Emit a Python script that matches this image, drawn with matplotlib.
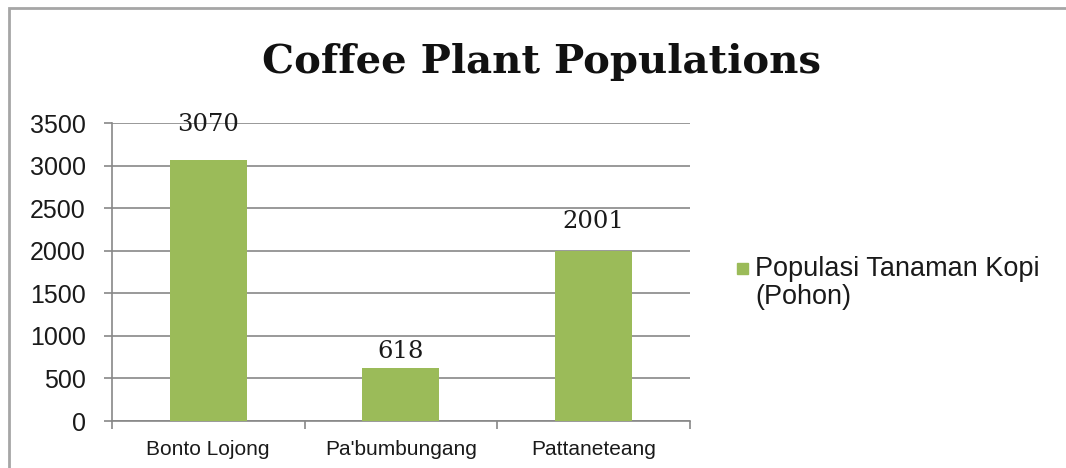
import matplotlib.pyplot as plt
from matplotlib.patches import Rectangle

villages = ["Bonto Lojong", "Pa'bumbungang", "Pattaneteang"]
populations = [3070, 618, 2001]
series_name = "Populasi Tanaman Kopi\n(Pohon)"
yticks = [0, 500, 1000, 1500, 2000, 2500, 3000, 3500]

green = "#9BBB59"
grid_gray = "#878787"
text_col = "#1a1a1a"
label_offsets = [17, 4, 13]  # points above each bar

fig = plt.figure(figsize=(10.66, 4.68), dpi=100)
ax = fig.add_axes([0.105, 0.1004, 0.542, 0.6366])

# chart border (cut off at right and bottom like the screenshot)
fig.patches.append(Rectangle((9 / 1066, -0.1), 1.2, 1 - 8 / 468 + 0.1,
                             transform=fig.transFigure, fill=False,
                             edgecolor="#a6a6a6", linewidth=2))

x = list(range(len(villages)))
bars = ax.bar(x, populations, width=0.4, color=green, label=series_name, zorder=3)

for xi, v, off in zip(x, populations, label_offsets):
    ax.annotate(str(v), (xi, v), xytext=(0, off), textcoords="offset points",
                ha="center", va="bottom", fontsize=17.5, family="DejaVu Serif",
                color=text_col)

ax.set_xlim(-0.5, 2.5)
ax.set_ylim(0, 3500)
ax.set_yticks(yticks)
ax.yaxis.grid(True, color=grid_gray, linewidth=1.2, zorder=0)
ax.set_axisbelow(True)
ax.tick_params(axis="y", length=6, width=1.2, color=grid_gray, labelsize=18,
               pad=13, labelcolor=text_col)
ax.set_yticklabels([str(t) for t in yticks], family="Liberation Sans")

ax.set_xticks(x)
ax.set_xticklabels(villages, family="Liberation Sans", fontsize=15, color=text_col)
ax.tick_params(axis="x", which="major", length=0, pad=14)
ax.set_xticks([-0.5, 0.5, 1.5, 2.5], minor=True)
ax.tick_params(axis="x", which="minor", length=6, width=1.2, color=grid_gray)

for s in ["top", "right"]:
    ax.spines[s].set_visible(False)
for s in ["left", "bottom"]:
    ax.spines[s].set_color(grid_gray)
    ax.spines[s].set_linewidth(1.2)

fig.text(0.508, 0.868, "Coffee Plant Populations", ha="center", va="center",
         fontsize=29, fontweight="bold", family="DejaVu Serif", color="#111111")

# legend: marker next to the first line of the series name
fig.patches.append(Rectangle((737 / 1066, 1 - 274 / 468), 11 / 1066, 11 / 468,
                             transform=fig.transFigure, color=green))
fig.text(755 / 1066, 1 - 256 / 468, series_name, ha="left", va="top",
         fontsize=19.5, family="Liberation Sans", color=text_col, linespacing=1.12)

fig.savefig("out.png", dpi=100)
